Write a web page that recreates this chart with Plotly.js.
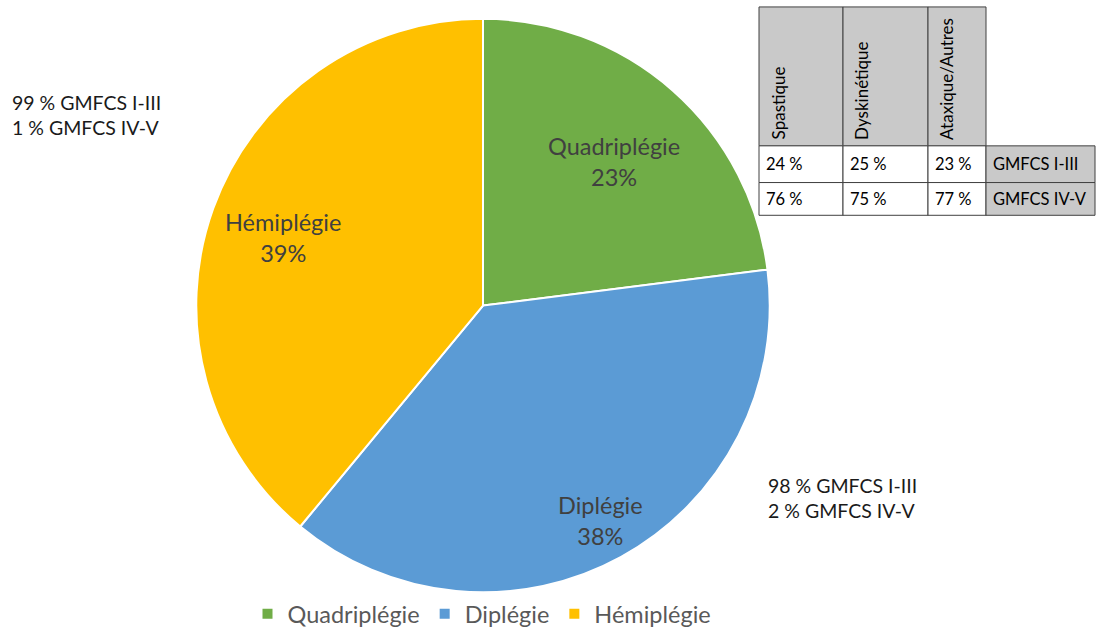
<!DOCTYPE html>
<html>
<head>
<meta charset="utf-8">
<script src="https://cdn.plot.ly/plotly-3.0.1.min.js"></script>
<style>html,body{margin:0;padding:0;background:#fff;}#chart{width:1096px;height:636px;}</style>
</head>
<body>
<div id="chart"></div>
<script>
// ---- data ----
const categories = ["Quadriplégie", "Diplégie", "Hémiplégie"];
const shares = [23, 38, 39];
const sliceColors = ["#70AD47", "#5B9BD5", "#FFC000"];

const tableHeaders = ["Spastique", "Dyskinétique", "Ataxique/Autres"];
const rowLabels = ["GMFCS I-III", "GMFCS IV-V"];
const rowGmfcsI_III = ["24 %", "25 %", "23 %"];
const rowGmfcsIV_V = ["76 %", "75 %", "77 %"];

const hemiNote = ["99 % GMFCS I-III", "1 % GMFCS IV-V"];
const dipNote = ["98 % GMFCS I-III", "2 % GMFCS IV-V"];

// ---- layout constants ----
const W = 1096, H = 636;
const FONT = "Lato, 'Open Sans', sans-serif";
const cx = 483, cy = 308, R = 287, domainPad = 2;
const labelRadius = [0.69, 0.85, 0.74];
const labelDy = 3;
const px = x => x / W;
const py = y => 1 - y / H;

const annotations = [];
const shapes = [];

// pie slice labels positioned from data angles
const total = shares.reduce((a, b) => a + b, 0);
let cum = 0;
shares.forEach((v, i) => {
  const mid = (cum + v / 2) / total * 2 * Math.PI;
  cum += v;
  const lx = cx + labelRadius[i] * R * Math.sin(mid);
  const ly = cy - labelRadius[i] * R * Math.cos(mid) + labelDy;
  annotations.push({
    xref: "paper", yref: "paper", x: px(lx), y: py(ly),
    xanchor: "center", yanchor: "middle", showarrow: false,
    text: categories[i] + "<br>" + Math.round(v / total * 100) + "%",
    font: {family: FONT, size: 23.5, color: "#404040"}
  });
});

// side notes
annotations.push({
  xref: "paper", yref: "paper", x: px(10), y: py(116), xanchor: "left", yanchor: "middle",
  showarrow: false, align: "left", text: hemiNote.join("<br>"),
  font: {family: FONT, size: 19.5, color: "#1A1A1A"}
});
annotations.push({
  xref: "paper", yref: "paper", x: px(766), y: py(502), xanchor: "left", yanchor: "middle",
  showarrow: false, align: "left", text: dipNote.join("<br>"),
  font: {family: FONT, size: 19.5, color: "#1A1A1A"}
});

// table
const colX = [759, 843, 928, 986, 1095];
const rowY = [7, 147, 184, 217];
const grey = "#C9C9C9";
const border = {color: "#404040", width: 1};
function rect(x0, y0, x1, y1, fill) {
  shapes.push({type: "rect", xref: "paper", yref: "paper",
    x0: px(x0), x1: px(x1), y0: py(y1), y1: py(y0),
    fillcolor: fill, line: border, layer: "above"});
}
tableHeaders.forEach((h, j) => {
  rect(colX[j], rowY[0], colX[j + 1], rowY[1], grey);
  annotations.push({
    xref: "paper", yref: "paper", x: px(colX[j] + 19), y: py(rowY[1] - 4),
    xanchor: "center", yanchor: "bottom", textangle: -90, showarrow: false,
    text: h, font: {family: FONT, size: 17, color: "#000"}
  });
});
[rowGmfcsI_III, rowGmfcsIV_V].forEach((row, r) => {
  row.forEach((val, j) => {
    rect(colX[j], rowY[r + 1], colX[j + 1], rowY[r + 2], "#FFFFFF");
    annotations.push({
      xref: "paper", yref: "paper", x: px(colX[j] + 5), y: py((rowY[r + 1] + rowY[r + 2]) / 2),
      xanchor: "left", yanchor: "middle", showarrow: false,
      text: val, font: {family: FONT, size: 16.5, color: "#000"}
    });
  });
  rect(colX[3], rowY[r + 1], colX[4], rowY[r + 2], grey);
  annotations.push({
    xref: "paper", yref: "paper", x: px(colX[3] + 5), y: py((rowY[r + 1] + rowY[r + 2]) / 2),
    xanchor: "left", yanchor: "middle", showarrow: false,
    text: rowLabels[r], font: {family: FONT, size: 16.5, color: "#000"}
  });
});

const trace = {
  type: "pie",
  labels: categories,
  values: shares,
  sort: false,
  direction: "clockwise",
  rotation: 0,
  textinfo: "none",
  hoverinfo: "label+percent",
  marker: {colors: sliceColors, line: {color: "#FFFFFF", width: 2}},
  domain: {
    x: [px(cx - R - domainPad), px(cx + R + domainPad)],
    y: [py(cy + R + domainPad), py(cy - R - domainPad)]
  }
};

const layout = {
  width: W, height: H,
  margin: {l: 0, r: 0, t: 0, b: 0},
  paper_bgcolor: "#FFFFFF",
  showlegend: true,
  legend: {
    orientation: "h", x: px(482), xanchor: "center", y: py(619), yanchor: "middle",
    font: {family: FONT, size: 23.5, color: "#595959"},
    itemwidth: 30, traceorder: "normal"
  },
  annotations: annotations,
  shapes: shapes
};

Plotly.newPlot("chart", [trace], layout, {displayModeBar: false, staticPlot: true});
</script>
</body>
</html>
